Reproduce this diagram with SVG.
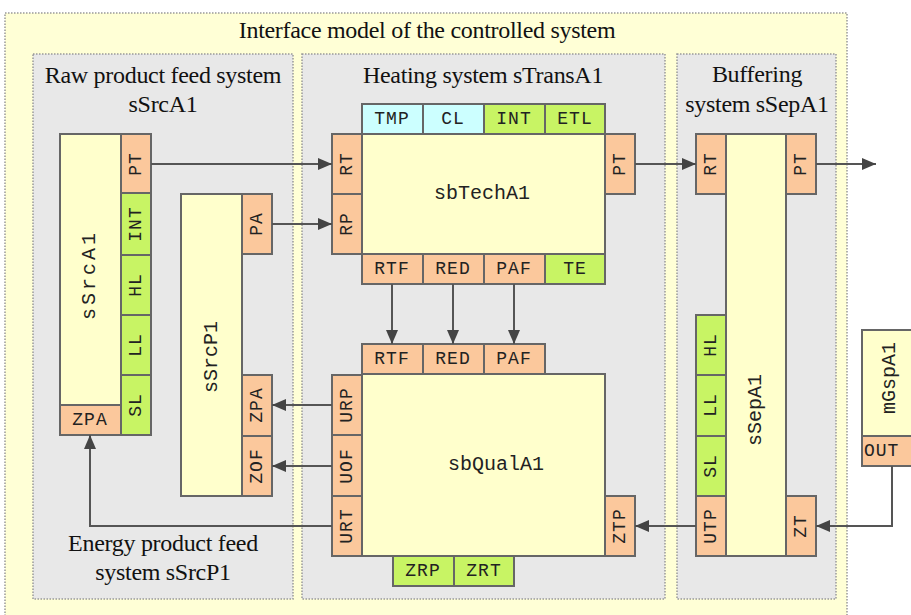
<svg xmlns="http://www.w3.org/2000/svg" width="911" height="615" viewBox="0 0 911 615">
<style>
.outer{fill:#ffffd6;stroke:#999;stroke-width:1.5;stroke-dasharray:1.5 1.5}
.panel{fill:#e8e8e8;stroke:#999;stroke-width:1.5;stroke-dasharray:1.5 1.5}
.blk{fill:#ffffcc;stroke:#666;stroke-width:2}
.po{fill:#fbc89c;stroke:#666;stroke-width:2}
.pg{fill:#c8f464;stroke:#666;stroke-width:2}
.pb{fill:#ccffff;stroke:#666;stroke-width:2}
.t{font-family:"Liberation Serif",serif;font-size:24px;fill:#111;text-anchor:middle;letter-spacing:-0.3px}
.m{font-family:"Liberation Mono",monospace;font-size:18px;fill:#222;text-anchor:middle;dominant-baseline:central;letter-spacing:1px}
.n{font-family:"Liberation Mono",monospace;font-size:20px;fill:#222;text-anchor:middle;dominant-baseline:central}
.c{fill:none;stroke:#555;stroke-width:2;marker-end:url(#a)}
</style>
<defs>
<marker id="a" markerUnits="userSpaceOnUse" markerWidth="14" markerHeight="12" refX="14" refY="6" orient="auto"><path d="M0,0 L14,6 L0,12 z" fill="#444"/></marker>
</defs>
<rect width="911" height="615" fill="#fff"/>
<g id="outer">
<rect class="outer" x="5" y="13" width="842" height="610"/>
<text class="t" x="427" y="38">Interface model of the controlled system</text>
</g>
<g id="panel-raw">
<rect class="panel" x="33" y="54" width="260" height="545"/>
<text class="t" x="163" y="83">Raw product feed system</text>
<text class="t" x="163" y="112">sSrcA1</text>
<text class="t" x="163" y="551">Energy product feed</text>
<text class="t" x="163" y="580">system sSrcP1</text>
</g>
<g id="panel-heat">
<rect class="panel" x="302" y="54" width="363" height="545"/>
<text class="t" x="483" y="83">Heating system sTransA1</text>
</g>
<g id="panel-buf">
<rect class="panel" x="677" y="54" width="159" height="545"/>
<text class="t" x="757" y="82">Buffering</text>
<text class="t" x="757" y="112">system sSepA1</text>
</g>

<g id="sSrcA1">
<rect class="blk" x="60" y="134" width="61" height="271"/>
<text class="n" transform="rotate(-90 89 275)" x="89" y="275" style="letter-spacing:3px">sSrcA1</text>
<rect class="po" x="121" y="134" width="30" height="59"/>
<text class="m" transform="rotate(-90 136 164)" x="136" y="164">PT</text>
<rect class="pg" x="121" y="193" width="30" height="62"/>
<text class="m" transform="rotate(-90 136 224)" x="136" y="224">INT</text>
<rect class="pg" x="121" y="255" width="30" height="60"/>
<text class="m" transform="rotate(-90 136 285)" x="136" y="285">HL</text>
<rect class="pg" x="121" y="315" width="30" height="60"/>
<text class="m" transform="rotate(-90 136 345)" x="136" y="345">LL</text>
<rect class="pg" x="121" y="375" width="30" height="60"/>
<text class="m" transform="rotate(-90 136 405)" x="136" y="405">SL</text>
<rect class="po" x="60" y="405" width="61" height="30"/>
<text class="m" x="90" y="420">ZPA</text>
</g>

<g id="sSrcP1">
<rect class="blk" x="181" y="194" width="61" height="302"/>
<text class="n" transform="rotate(-90 211 357)" x="211" y="357">sSrcP1</text>
<rect class="po" x="242" y="194" width="30" height="60"/>
<text class="m" transform="rotate(-90 257 224)" x="257" y="224">PA</text>
<rect class="po" x="242" y="375" width="30" height="61"/>
<text class="m" transform="rotate(-90 257 405)" x="257" y="405">ZPA</text>
<rect class="po" x="242" y="436" width="30" height="60"/>
<text class="m" transform="rotate(-90 257 466)" x="257" y="466">ZOF</text>
</g>

<g id="sbTechA1">
<rect class="blk" x="362" y="134" width="243" height="120"/>
<text class="n" x="482" y="193">sbTechA1</text>
<rect class="pb" x="362" y="104" width="61" height="30"/>
<text class="m" x="392" y="119">TMP</text>
<rect class="pb" x="423" y="104" width="61" height="30"/>
<text class="m" x="453" y="119">CL</text>
<rect class="pg" x="484" y="104" width="61" height="30"/>
<text class="m" x="514" y="119">INT</text>
<rect class="pg" x="545" y="104" width="60" height="30"/>
<text class="m" x="575" y="119">ETL</text>
<rect class="po" x="332" y="134" width="30" height="60"/>
<text class="m" transform="rotate(-90 347 164)" x="347" y="164">RT</text>
<rect class="po" x="332" y="194" width="30" height="60"/>
<text class="m" transform="rotate(-90 347 224)" x="347" y="224">RP</text>
<rect class="po" x="605" y="134" width="30" height="60"/>
<text class="m" transform="rotate(-90 620 164)" x="620" y="164">PT</text>
<rect class="po" x="362" y="254" width="61" height="30"/>
<text class="m" x="392" y="269">RTF</text>
<rect class="po" x="423" y="254" width="61" height="30"/>
<text class="m" x="453" y="269">RED</text>
<rect class="po" x="484" y="254" width="61" height="30"/>
<text class="m" x="514" y="269">PAF</text>
<rect class="pg" x="545" y="254" width="60" height="30"/>
<text class="m" x="575" y="269">TE</text>
</g>

<g id="sbQualA1">
<rect class="blk" x="362" y="374" width="243" height="182"/>
<text class="n" x="496" y="464">sbQualA1</text>
<rect class="po" x="362" y="344" width="61" height="30"/>
<text class="m" x="392" y="359">RTF</text>
<rect class="po" x="423" y="344" width="61" height="30"/>
<text class="m" x="453" y="359">RED</text>
<rect class="po" x="484" y="344" width="61" height="30"/>
<text class="m" x="514" y="359">PAF</text>
<rect class="po" x="332" y="375" width="30" height="60"/>
<text class="m" transform="rotate(-90 347 405)" x="347" y="405">URP</text>
<rect class="po" x="332" y="435" width="30" height="61"/>
<text class="m" transform="rotate(-90 347 466)" x="347" y="466">UOF</text>
<rect class="po" x="332" y="496" width="30" height="60"/>
<text class="m" transform="rotate(-90 347 526)" x="347" y="526">URT</text>
<rect class="po" x="605" y="496" width="30" height="60"/>
<text class="m" transform="rotate(-90 620 526)" x="620" y="526">ZTP</text>
<rect class="pg" x="393" y="556" width="61" height="30"/>
<text class="m" x="423" y="571">ZRP</text>
<rect class="pg" x="454" y="556" width="60" height="30"/>
<text class="m" x="484" y="571">ZRT</text>
</g>

<g id="sSepA1">
<rect class="blk" x="726" y="134" width="60" height="422"/>
<text class="n" transform="rotate(-90 755 410)" x="755" y="410">sSepA1</text>
<rect class="po" x="696" y="134" width="30" height="60"/>
<text class="m" transform="rotate(-90 711 164)" x="711" y="164">RT</text>
<rect class="po" x="786" y="134" width="30" height="60"/>
<text class="m" transform="rotate(-90 801 164)" x="801" y="164">PT</text>
<rect class="pg" x="696" y="315" width="30" height="60"/>
<text class="m" transform="rotate(-90 711 345)" x="711" y="345">HL</text>
<rect class="pg" x="696" y="375" width="30" height="61"/>
<text class="m" transform="rotate(-90 711 405)" x="711" y="405">LL</text>
<rect class="pg" x="696" y="436" width="30" height="60"/>
<text class="m" transform="rotate(-90 711 466)" x="711" y="466">SL</text>
<rect class="po" x="696" y="496" width="30" height="60"/>
<text class="m" transform="rotate(-90 711 526)" x="711" y="526">UTP</text>
<rect class="po" x="786" y="496" width="30" height="60"/>
<text class="m" transform="rotate(-90 801 526)" x="801" y="526">ZT</text>
</g>

<g id="mGspA1">
<rect class="blk" x="862" y="330" width="60" height="106"/>
<text class="n" transform="rotate(-90 889 378)" x="889" y="378">mGspA1</text>
<rect class="po" x="862" y="436" width="60" height="30"/>
<text class="m" x="864" y="451" style="text-anchor:start">OUT</text>
</g>

<g id="connectors">
<path class="c" d="M151,164 H332"/>
<path class="c" d="M272,224 H332"/>
<path class="c" d="M635,164 H696"/>
<path class="c" d="M816,164 H876"/>
<path class="c" d="M392,284 V344"/>
<path class="c" d="M453,284 V344"/>
<path class="c" d="M514,284 V344"/>
<path class="c" d="M332,405 H272"/>
<path class="c" d="M332,466 H272"/>
<path class="c" d="M332,526 H90 V435"/>
<path class="c" d="M892,466 V526 H816"/>
<path class="c" d="M696,526 H635"/>
</g>
</svg>
